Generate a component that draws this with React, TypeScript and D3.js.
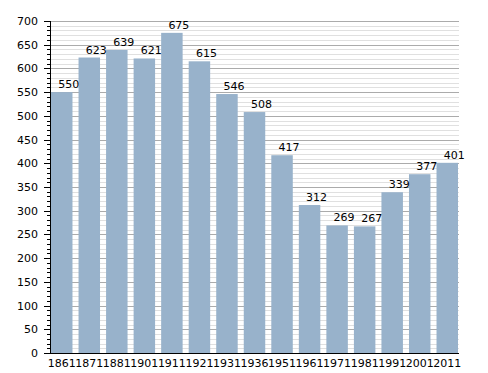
import React, { useEffect, useRef } from 'react';
import * as d3 from 'd3';

const years = ['1861', '1871', '1881', '1901', '1911', '1921', '1931', '1936', '1951', '1961', '1971', '1981', '1991', '2001', '2011'];
const population = [550, 623, 639, 621, 675, 615, 546, 508, 417, 312, 269, 267, 339, 377, 401];
const yMajorTicks = d3.range(0, 701, 50);
const yMinorTicks = d3.range(0, 701, 10);

const W = 488;
const H = 373;
const margin = { top: 21, right: 29, bottom: 20, left: 50 };

const App: React.FC = () => {
  const svgRef = useRef<SVGSVGElement>(null);

  useEffect(() => {
    if (!svgRef.current) return;
    const svg = d3.select(svgRef.current);
    svg.selectAll('*').remove();

    const x0 = margin.left;
    const x1 = W - margin.right;
    const y0 = H - margin.bottom;
    const y1 = margin.top;

    const y = d3.scaleLinear().domain([0, 700]).range([y0, y1]);
    const x = d3.scaleBand<string>().domain(years).range([x0 + 1, x1 - 1]).paddingInner(0.22).paddingOuter(0);

    const font = 'DejaVu Sans, sans-serif';

    // grid
    const grid = svg.append('g').attr('shape-rendering', 'crispEdges');
    grid.selectAll('line.minor')
      .data(yMinorTicks.filter((v) => v % 50 !== 0))
      .enter()
      .append('line')
      .attr('x1', x0)
      .attr('x2', x1)
      .attr('y1', (d) => Math.round(y(d)) + 0.5)
      .attr('y2', (d) => Math.round(y(d)) + 0.5)
      .attr('stroke', '#e0e0e0');
    grid.selectAll('line.major')
      .data(yMajorTicks)
      .enter()
      .append('line')
      .attr('x1', x0)
      .attr('x2', x1)
      .attr('y1', (d) => Math.round(y(d)) + 0.5)
      .attr('y2', (d) => Math.round(y(d)) + 0.5)
      .attr('stroke', '#ababab');

    // bars
    svg.append('g')
      .selectAll('rect')
      .data(population)
      .enter()
      .append('rect')
      .attr('x', (_, i) => x(years[i]) as number)
      .attr('width', x.bandwidth())
      .attr('y', (d) => y(d))
      .attr('height', (d) => y0 - y(d))
      .attr('fill', '#98b2cb');

    // value labels
    svg.append('g')
      .selectAll('text')
      .data(population)
      .enter()
      .append('text')
      .attr('x', (_, i) => (x(years[i]) as number) + x.bandwidth() / 2 + 7)
      .attr('y', (d) => y(d) - 4)
      .attr('text-anchor', 'middle')
      .attr('font-family', font)
      .attr('font-size', 11)
      .attr('fill', '#000')
      .text((d) => d);

    // y axis
    const ax = svg.append('g').attr('shape-rendering', 'crispEdges');
    ax.selectAll('line.minor')
      .data(yMinorTicks)
      .enter()
      .append('line')
      .attr('x1', x0 - 3)
      .attr('x2', x0)
      .attr('y1', (d) => Math.round(y(d)) + 0.5)
      .attr('y2', (d) => Math.round(y(d)) + 0.5)
      .attr('stroke', '#000');
    ax.selectAll('line.major')
      .data(yMajorTicks)
      .enter()
      .append('line')
      .attr('x1', x0 - 6)
      .attr('x2', x0)
      .attr('y1', (d) => Math.round(y(d)) + 0.5)
      .attr('y2', (d) => Math.round(y(d)) + 0.5)
      .attr('stroke', '#000');
    ax.append('line')
      .attr('x1', x0 + 0.5)
      .attr('x2', x0 + 0.5)
      .attr('y1', y1)
      .attr('y2', y0)
      .attr('stroke', '#000');
    ax.append('line')
      .attr('x1', x0)
      .attr('x2', x1)
      .attr('y1', y0 + 0.5)
      .attr('y2', y0 + 0.5)
      .attr('stroke', '#000');

    svg.append('g')
      .selectAll('text')
      .data(yMajorTicks)
      .enter()
      .append('text')
      .attr('x', x0 - 12)
      .attr('y', (d) => y(d) + 4)
      .attr('text-anchor', 'end')
      .attr('font-family', font)
      .attr('font-size', 11)
      .attr('fill', '#000')
      .text((d) => d);

    // x labels
    svg.append('g')
      .selectAll('text')
      .data(years)
      .enter()
      .append('text')
      .attr('x', (d) => (x(d) as number) + x.bandwidth() / 2)
      .attr('y', y0 + 14)
      .attr('text-anchor', 'middle')
      .attr('font-family', font)
      .attr('font-size', 11)
      .attr('fill', '#000')
      .text((d) => d);
  }, []);

  return (
    <svg
      ref={svgRef}
      width={W}
      height={H}
      style={{ position: 'absolute', left: 0, top: 0, background: '#fff' }}
    />
  );
};

export default App;
